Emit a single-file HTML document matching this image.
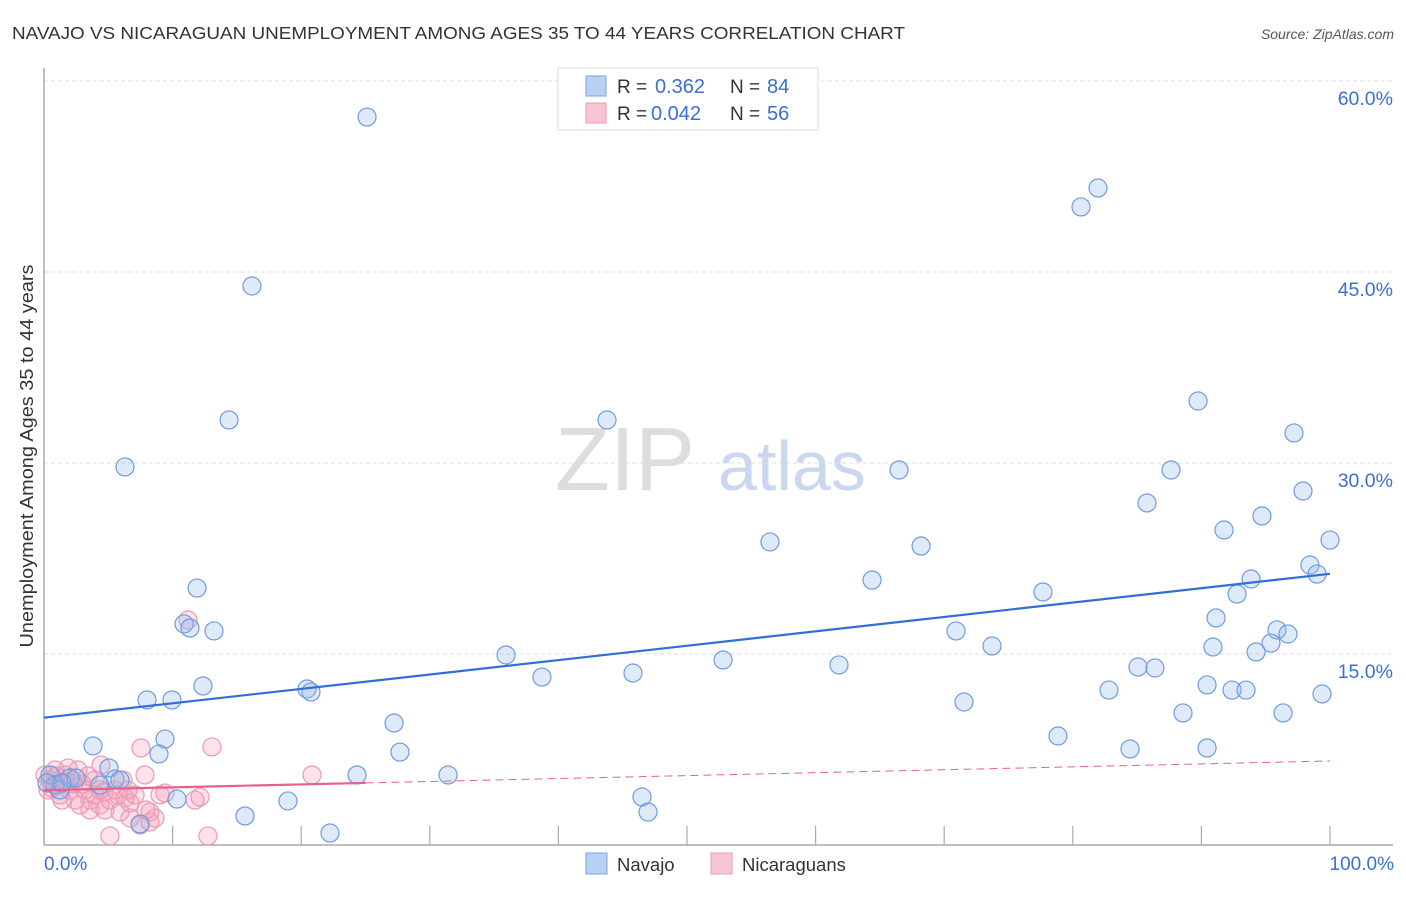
<!DOCTYPE html>
<html><head><meta charset="utf-8"><style>
body{margin:0;background:#fff;font-family:"Liberation Sans",sans-serif}
svg text{font-family:"Liberation Sans",sans-serif}
</style></head><body>
<svg width="1406" height="892" xmlns="http://www.w3.org/2000/svg" id="chart">
<text x="12" y="39" font-size="17.5" fill="#333" textLength="893" lengthAdjust="spacingAndGlyphs">NAVAJO VS NICARAGUAN UNEMPLOYMENT AMONG AGES 35 TO 44 YEARS CORRELATION CHART</text>
<text x="1394" y="39" font-size="14" fill="#555" text-anchor="end" font-style="italic">Source: ZipAtlas.com</text>
<text x="555" y="490" font-size="90" fill="#ddd" font-family="Liberation Serif">ZIP</text>
<text x="718" y="490" font-size="70" fill="#c9d8ef">atlas</text>
<g id="grid"></g>
<g id="axes"></g>
<g id="pts"></g>
<g id="trend"></g>
<text transform="translate(33,456) rotate(-90)" font-size="18" fill="#333" text-anchor="middle" textLength="383" lengthAdjust="spacingAndGlyphs">Unemployment Among Ages 35 to 44 years</text>
<text x="44" y="870" font-size="19" fill="#3b6fd4">0.0%</text>
<text x="1394" y="870" font-size="19" fill="#3b6fd4" text-anchor="end">100.0%</text>
<g>
<rect x="558" y="68" width="260" height="62" fill="#fff" stroke="#ddd"/>
<rect x="586" y="76" width="20" height="20" fill="#b8d0f3" stroke="#7ea5e0"/>
<rect x="586" y="103" width="20" height="20" fill="#f8c5d3" stroke="#eb9ab3"/>
<text x="617" y="93" font-size="19" fill="#333">R =</text>
<text x="655" y="93" font-size="20" fill="#3b6fd4">0.362</text>
<text x="730" y="93" font-size="19" fill="#333">N =</text>
<text x="767" y="93" font-size="20" fill="#3b6fd4">84</text>
<text x="617" y="120" font-size="19" fill="#333">R =</text>
<text x="651" y="120" font-size="20" fill="#3b6fd4">0.042</text>
<text x="730" y="120" font-size="19" fill="#333">N =</text>
<text x="767" y="120" font-size="20" fill="#3b6fd4">56</text>
</g>
<g>
<rect x="586" y="853" width="21" height="21" fill="#b8d0f3" stroke="#7ea5e0"/>
<text x="617" y="871" font-size="18.5" fill="#333">Navajo</text>
<rect x="711" y="853" width="21" height="21" fill="#f8c5d3" stroke="#eb9ab3"/>
<text x="742" y="871" font-size="18.5" fill="#333">Nicaraguans</text>
</g>
</svg>
<script>
const yTicks=[15,30,45,60];
const yTickLabels=["15.0%","30.0%","45.0%","60.0%"];
const xTicks=[10,20,30,40,50,60,70,80,90,100];
const navajoPx=[[367,117],[252,286],[1098,188],[1081,207],[229,420],[607,420],[125,467],[1198,401],[1294,433],[899,470],[1171,470],[1303,491],[1147,503],[1262,516],[1224,530],[770,542],[921,546],[1330,540],[1310,565],[1317,574],[872,580],[1251,579],[1237,594],[1043,592],[197,588],[1216,618],[184,624],[190,628],[214,631],[956,631],[1277,630],[1288,634],[1271,643],[992,646],[1213,647],[1256,652],[506,655],[723,660],[839,665],[1138,667],[1155,668],[542,677],[633,673],[203,686],[1207,685],[307,689],[311,692],[1109,690],[1232,690],[1246,690],[147,700],[172,700],[1322,694],[964,702],[1183,713],[1283,713],[394,723],[1058,736],[93,746],[165,739],[400,752],[1130,749],[1207,748],[159,754],[109,768],[357,775],[448,775],[115,779],[120,780],[50,775],[55,785],[60,790],[70,778],[76,778],[100,785],[177,799],[288,801],[642,797],[648,812],[245,816],[330,833],[140,824],[47,783],[62,783]];
const nicPx=[[188,620],[212,747],[141,748],[68,768],[101,765],[145,775],[123,780],[312,775],[45,775],[50,780],[55,770],[58,785],[65,775],[72,780],[78,770],[85,790],[90,800],[95,795],[100,805],[105,810],[110,800],[115,790],[120,812],[125,798],[130,803],[135,795],[150,822],[155,818],[160,795],[165,793],[195,800],[200,797],[110,836],[208,836],[90,810],[75,800],[80,805],[60,795],[100,790],[140,825],[130,818],[150,812],[70,790],[62,800],[95,780],[88,776],[52,788],[48,790],[56,776],[66,782],[74,784],[82,784],[118,795],[128,790],[104,792],[146,810]];
const navajoX=navajoPx.map(p=>+((p[0]-44)/12.86).toFixed(2));
const navajoY=navajoPx.map(p=>+((845-p[1])/12.733).toFixed(2));
const nicX=nicPx.map(p=>+((p[0]-44)/12.86).toFixed(2));
const nicY=nicPx.map(p=>+((845-p[1])/12.733).toFixed(2));
const navajoTrend=[10.0,21.3];
const nicTrend=[4.3,6.6];
const nicSolidEnd=25;

const X=v=>44+v*12.86, Y=v=>845-v*12.733;
const NS="http://www.w3.org/2000/svg";
function mk(tag,attrs,parent){const e=document.createElementNS(NS,tag);for(const k in attrs)e.setAttribute(k,attrs[k]);document.getElementById(parent).appendChild(e);return e;}
yTicks.forEach((t,i)=>{
 const l=mk('line',{x1:44,x2:1393,y1:Y(t),y2:Y(t),stroke:'#ddd','stroke-dasharray':'4,3'},'grid');
 
 
 const tx=mk('text',{x:1393,y:Y(t)+24,'font-size':19.5,fill:'#3b6fd4','text-anchor':'end'},'grid');
 tx.textContent=yTickLabels[i];
 
 
});
const xa=mk('line',{x1:44,x2:1393,y1:845,y2:845,stroke:'#aaa','stroke-width':1.5},'axes');


const ya=mk('line',{x1:44,x2:44,y1:68,y2:845,stroke:'#aaa','stroke-width':1.5},'axes');


xTicks.forEach(t=>{
 const l=mk('line',{x1:X(t),x2:X(t),y1:826,y2:845,stroke:'#aaa','stroke-width':1.2},'axes');
 
 
});
nicX.forEach((v,i)=>{
 const c=mk('circle',{cx:X(v),cy:Y(nicY[i]),r:9,fill:'rgba(244,160,185,0.3)',stroke:'#eb9ab3','stroke-width':1.2},'pts');
 
 
});
navajoX.forEach((v,i)=>{
 const c=mk('circle',{cx:X(v),cy:Y(navajoY[i]),r:9,fill:'rgba(150,185,235,0.3)',stroke:'#6f9be0','stroke-width':1.2},'pts');
 
 
});
const tl=mk('line',{x1:X(0),y1:Y(navajoTrend[0]),x2:X(100),y2:Y(navajoTrend[1]),stroke:'#2f6fd6','stroke-width':2.2},'trend');


const ny=x=>nicTrend[0]+(nicTrend[1]-nicTrend[0])*x/100;
const n1=mk('line',{x1:X(0),y1:Y(ny(0)),x2:X(nicSolidEnd),y2:Y(ny(nicSolidEnd)),stroke:'#e8608a','stroke-width':2.2},'trend');


const n2=mk('line',{x1:X(nicSolidEnd),y1:Y(ny(nicSolidEnd)),x2:X(100),y2:Y(ny(100)),stroke:'#e8608a','stroke-width':1,'stroke-dasharray':'8,5'},'trend');


</script>
</body></html>
